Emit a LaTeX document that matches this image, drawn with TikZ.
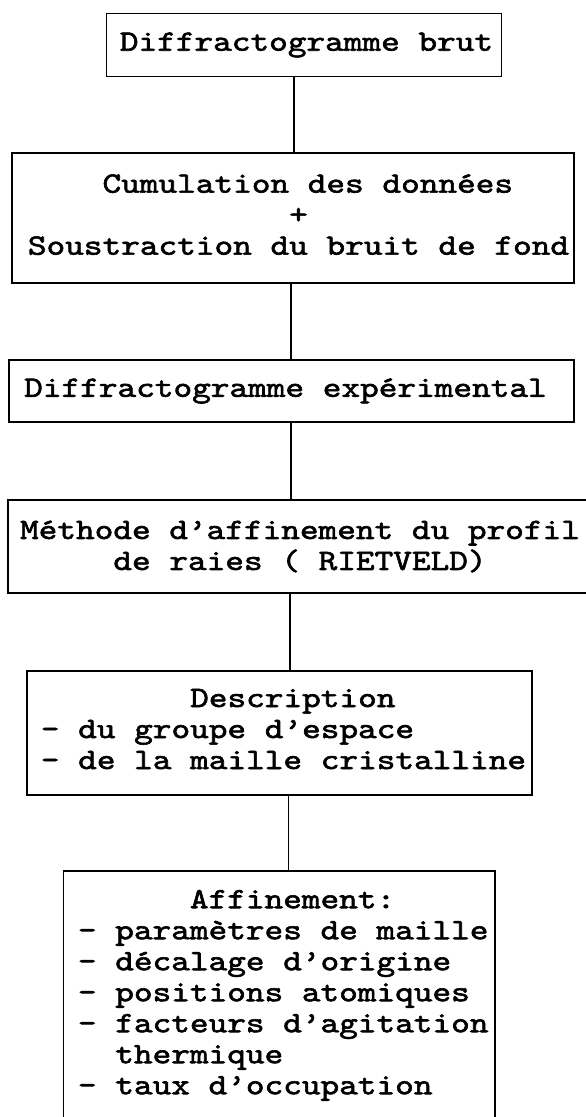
\documentclass[tikz,border=0pt]{standalone}
\usepackage{fontspec}
\newfontfamily\tw{lmmono10-regular.otf}[FakeStretch=1.205,FakeBold=2]
\newcommand\pad[1]{\hphantom{#1}}
\newcommand\lsh[1]{\hspace*{#1}}
\newcommand\dep[1]{\rule[-#1]{0pt}{#1}}
\begin{document}
\begin{tikzpicture}[x=1pt,y=-1pt,
  box/.style={draw, line width=1.7pt, rectangle, align=left, inner sep=0pt,
    font={\tw\fontsize{29.5}{31}\selectfont}},
  link/.style={line width=1.5pt}]
\useasboundingbox (0,0) rectangle (586,1117);
\clip (0,0) rectangle (586,1117);
\fill[white] (0,0) rectangle (586,1117);

\node[box, minimum width=395pt, minimum height=63pt] (b1) at (304,45)
  {\lsh{5pt}Diffractogramme brut};
\node[box, minimum width=562pt, minimum height=130pt] (b2) at (293,218)
  {\lsh{11pt}\pad{xxxx}Cumulation des données\\\lsh{11pt}\pad{xxxxxxxxxxxxxx}+\\\lsh{11pt}Soustraction du bruit de fond\dep{7pt}};
\node[box, minimum width=565pt, minimum height=62pt] (b3) at (291.5,391)
  {Diffractogramme expérimental\lsh{12pt}};
\node[box, minimum width=584pt, minimum height=93pt] (b4) at (300,546.5)
  {Méthode d’affinement du profil\\\pad{xxxxx}de raies ( RIETVELD)};
\node[box, minimum width=505pt, minimum height=124pt] (b5) at (279.5,733)
  {\lsh{8pt}\pad{xxxxxxxx}Description\\\lsh{8pt}- du groupe d’espace\\\lsh{8pt}- de la maille cristalline\dep{8pt}};
\node[box, minimum width=431.5pt, minimum height=248.6pt] (b6) at (279.25,995.3)
  {\lsh{8pt}\pad{xxxxxx}Affinement:\\\lsh{8pt}- paramètres de maille\\\lsh{8pt}- décalage d’origine\\\lsh{8pt}- positions atomiques\\\lsh{8pt}- facteurs d’agitation\\\lsh{8pt}\pad{xx}thermique\\\lsh{8pt}- taux d’occupation};

\coordinate (c1) at (294,0);
\coordinate (c2) at (291,0);
\coordinate (c3) at (291,0);
\coordinate (c4) at (290,0);
\coordinate (c5) at (288.5,0);
\draw[link] (b1.south -| c1) -- (b2.north -| c1);
\draw[link] (b2.south -| c2) -- (b3.north -| c2);
\draw[link] (b3.south -| c3) -- (b4.north -| c3);
\draw[link] (b4.south -| c4) -- (b5.north -| c4);
\draw[link] (b5.south -| c5) -- (b6.north -| c5);
\end{tikzpicture}
\end{document}
